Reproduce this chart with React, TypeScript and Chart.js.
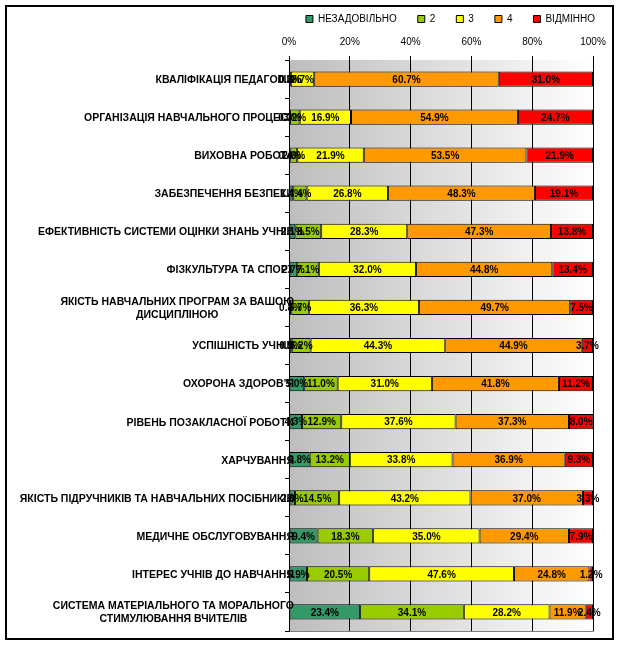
import { useEffect, useRef } from "react";
import { Chart, registerables } from "chart.js";

Chart.register(...registerables);

const FONT = "'Liberation Sans', Arial, sans-serif";

const categories: (string | string[])[] = [
  "КВАЛІФІКАЦІЯ ПЕДАГОГІВ",
  "ОРГАНІЗАЦІЯ НАВЧАЛЬНОГО ПРОЦЕСУ",
  "ВИХОВНА РОБОТА",
  "ЗАБЕЗПЕЧЕННЯ БЕЗПЕКИ",
  "ЕФЕКТИВНІСТЬ СИСТЕМИ ОЦІНКИ ЗНАНЬ УЧНІВ",
  "ФІЗКУЛЬТУРА ТА СПОРТ",
  ["ЯКІСТЬ НАВЧАЛЬНИХ ПРОГРАМ ЗА ВАШОЮ", "ДИСЦИПЛІНОЮ"],
  "УСПІШНІСТЬ УЧНІВ",
  "ОХОРОНА ЗДОРОВ’Я",
  "РІВЕНЬ ПОЗАКЛАСНОЇ РОБОТИ",
  "ХАРЧУВАННЯ",
  "ЯКІСТЬ ПІДРУЧНИКІВ ТА НАВЧАЛЬНИХ ПОСІБНИКІВ",
  "МЕДИЧНЕ ОБСЛУГОВУВАННЯ",
  "ІНТЕРЕС УЧНІВ ДО НАВЧАННЯ",
  ["СИСТЕМА МАТЕРІАЛЬНОГО ТА МОРАЛЬНОГО", "СТИМУЛЮВАННЯ ВЧИТЕЛІВ"],
];

const seriesNames = ["НЕЗАДОВІЛЬНО", "2", "3", "4", "ВІДМІННО"];
const seriesColors = ["#339966", "#99CC00", "#FFFF00", "#FF9900", "#FF0000"];

const unsatisfactory = [0.3, 0.3, 0.4, 1.4, 2.1, 2.7, 0.8, 0.9, 5.0, 4.3, 6.8, 2.0, 9.4, 5.9, 23.4];
const grade2 = [0.3, 3.2, 2.3, 4.4, 8.5, 7.1, 5.7, 6.2, 11.0, 12.9, 13.2, 14.5, 18.3, 20.5, 34.1];
const grade3 = [7.7, 16.9, 21.9, 26.8, 28.3, 32.0, 36.3, 44.3, 31.0, 37.6, 33.8, 43.2, 35.0, 47.6, 28.2];
const grade4 = [60.7, 54.9, 53.5, 48.3, 47.3, 44.8, 49.7, 44.9, 41.8, 37.3, 36.9, 37.0, 29.4, 24.8, 11.9];
const excellent = [31.0, 24.7, 21.9, 19.1, 13.8, 13.4, 7.5, 3.7, 11.2, 8.0, 9.3, 3.3, 7.9, 1.2, 2.4];

const seriesValues = [unsatisfactory, grade2, grade3, grade4, excellent];

const xMin = 0;
const xMax = 100;
const xStep = 20;

const backgroundPlugin = {
  id: "plotBackground",
  beforeDraw(chart: any) {
    const { ctx, chartArea } = chart;
    if (!chartArea) return;
    // shift the legend row to match the reference placement
    if (chart.legend && !chart.legend._shifted) {
      chart.legend.left += 23;
      chart.legend.right += 23;
      chart.legend.top += 6;
      chart.legend.bottom += 6;
      chart.legend._shifted = true;
    }
    const { left, top, right, bottom } = chartArea;
    ctx.save();
    const g = ctx.createLinearGradient(left, 0, right, 0);
    g.addColorStop(0, "#bdbdbd");
    g.addColorStop(1, "#ffffff");
    ctx.fillStyle = g;
    ctx.fillRect(left, top, right - left, bottom - top);
    ctx.strokeStyle = "#808080";
    ctx.lineWidth = 1;
    ctx.beginPath();
    ctx.moveTo(Math.round(right) + 0.5, top);
    ctx.lineTo(Math.round(right) + 0.5, Math.round(bottom) + 0.5);
    ctx.lineTo(left, Math.round(bottom) + 0.5);
    ctx.stroke();
    ctx.restore();
  },
  afterDraw(chart: any) {
    const { ctx, width, height } = chart;
    ctx.save();
    ctx.strokeStyle = "#000";
    ctx.lineWidth = 2;
    ctx.strokeRect(6, 6, width - 12, height - 12);
    ctx.restore();
  },
};

const labelsPlugin = {
  id: "barLabels",
  afterDatasetsDraw(chart: any) {
    const { ctx } = chart;
    ctx.save();
    ctx.fillStyle = "#000";
    ctx.textAlign = "center";
    ctx.textBaseline = "middle";
    ctx.font = `bold 10px ${FONT}`;
    chart.data.datasets.forEach((ds: any, di: number) => {
      const meta = chart.getDatasetMeta(di);
      meta.data.forEach((el: any, i: number) => {
        const v = ds.data[i];
        const cx = (el.x + el.base) / 2;
        ctx.fillText(`${v.toFixed(1)}%`, cx, el.y + 1);
      });
    });
    // category labels
    ctx.font = `bold 10.5px ${FONT}`;
    const yScale = chart.scales.y;
    const axisX = chart.chartArea.left;
    const rightEdge = axisX + 5;
    const lineH = 13;
    categories.forEach((cat, i) => {
      const lines = Array.isArray(cat) ? cat : [cat];
      const widths = lines.map((l) => ctx.measureText(l).width);
      const maxW = Math.max(...widths);
      const centerX = rightEdge - maxW / 2;
      const cy = yScale.getPixelForValue(i);
      lines.forEach((l, li) => {
        const y = cy + (li - (lines.length - 1) / 2) * lineH;
        ctx.fillText(l, centerX, y + 1);
      });
    });
    ctx.restore();
  },
};

export default function App() {
  const ref = useRef<HTMLCanvasElement>(null);
  useEffect(() => {
    document.body.style.margin = "0";
    if (!ref.current) return;
    const chart = new Chart(ref.current, {
      type: "bar",
      data: {
        labels: categories.map((c) => (Array.isArray(c) ? c.join(" ") : c)),
        datasets: seriesNames.map((name, k) => ({
          label: name,
          data: seriesValues[k],
          backgroundColor: seriesColors[k],
          borderColor: "#000",
          borderWidth: 1,
          borderSkipped: false,
          barPercentage: 0.4,
          categoryPercentage: 1,
        })),
      },
      options: {
        indexAxis: "y",
        responsive: false,
        animation: false,
        layout: { padding: { left: 8, right: 26, top: -13, bottom: 14 } },
        plugins: {
          legend: {
            position: "top",
            align: "end",
            labels: {
              boxWidth: 7,
              boxHeight: 7,
              padding: 21,
              color: "#000",
              font: { size: 10, family: FONT },
            },
          },
          tooltip: { enabled: false },
        },
        scales: {
          x: {
            position: "top",
            stacked: true,
            min: xMin,
            max: xMax,
            ticks: {
              stepSize: xStep,
              callback: (v: any) => `${v}%`,
              color: "#000",
              padding: 8,
              font: { size: 10, family: FONT },
            },
            grid: { color: "#000", lineWidth: 1, tickLength: 4, drawTicks: true },
            border: { display: false },
          },
          y: {
            stacked: true,
            ticks: { display: false },
            grid: {
              offset: true,
              drawOnChartArea: false,
              drawTicks: true,
              tickLength: 4,
              color: "#000",
            },
            border: { display: true, color: "#000" },
            afterFit: (scale: any) => {
              scale.width = 281;
            },
          },
        },
      },
      plugins: [backgroundPlugin, labelsPlugin],
    } as any);
    return () => chart.destroy();
  }, []);
  return (
    <div style={{ width: 619, height: 645 }}>
      <canvas ref={ref} width={619} height={645} />
    </div>
  );
}
